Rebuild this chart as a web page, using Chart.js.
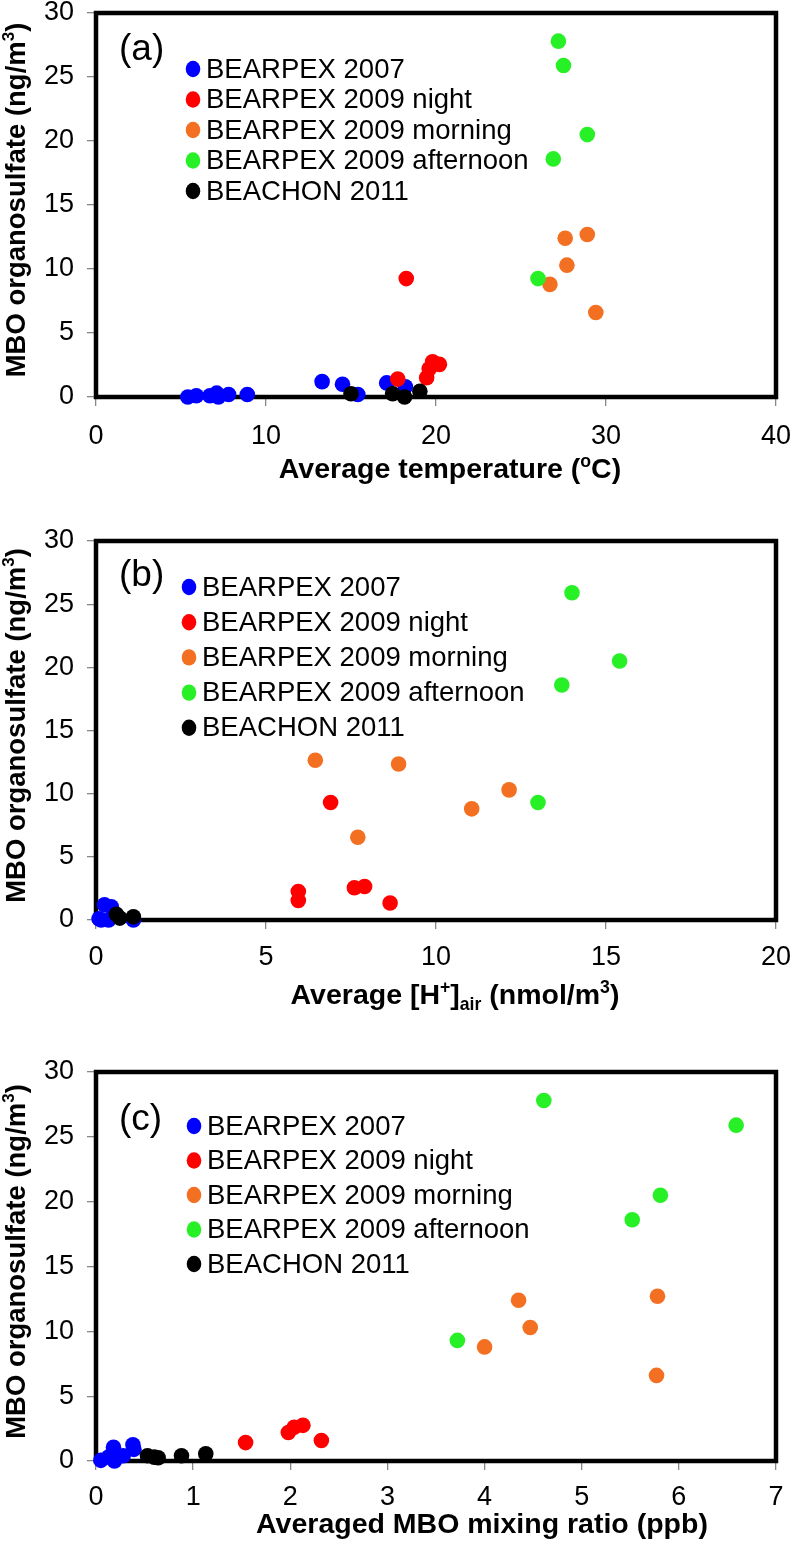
<!DOCTYPE html>
<html><head><meta charset="utf-8">
<script src="https://cdn.jsdelivr.net/npm/chart.js@4.4.1/dist/chart.umd.min.js"></script>
<style>
html,body{margin:0;padding:0;background:#fff;}
body{width:790px;height:1546px;position:relative;overflow:hidden;}
.panel{position:absolute;left:0;width:790px;}
canvas{display:block;}
</style></head><body>
<div class="panel" style="top:0;height:500px"><canvas id="cA" width="790" height="500"></canvas></div>
<div class="panel" style="top:500px;height:520px"><canvas id="cB" width="790" height="520"></canvas></div>
<div class="panel" style="top:1020px;height:526px"><canvas id="cC" width="790" height="526"></canvas></div>
<script>
// ---------- series names & colours ----------
const seriesLabels = ["BEARPEX 2007", "BEARPEX 2009 night", "BEARPEX 2009 morning", "BEARPEX 2009 afternoon", "BEACHON 2011"];
const seriesColors = ["#0000FF", "#FF0000", "#F36F21", "#27F027", "#000000"];

// ---------- panel (a): temperature (°C) vs MBO organosulfate (ng/m3) ----------
const tempB07   = [5.4, 5.9, 6.7, 7.1, 7.2, 7.8, 8.9, 13.3, 14.5, 15.4, 17.1, 18.2];
const osA_B07   = [0.0, 0.1, 0.1, 0.3, 0.0, 0.2, 0.2, 1.2, 1.0, 0.2, 1.1, 0.8];
const tempNight = [18.25, 17.75, 19.45, 19.6, 19.8, 20.2];
const osA_Night = [9.25, 1.4, 1.5, 2.2, 2.75, 2.55];
const tempMorn  = [27.6, 28.9, 27.7, 26.7, 29.4];
const osA_Morn  = [12.4, 12.7, 10.3, 8.8, 6.6];
const tempAft   = [27.2, 27.5, 28.9, 26.9, 26.0];
const osA_Aft   = [27.8, 25.9, 20.5, 18.6, 9.25];
const tempB11   = [15.0, 17.45, 18.15, 19.05];
const osA_B11   = [0.25, 0.25, 0.0, 0.45];

// ---------- panel (b): [H+]air (nmol/m3) ----------
const hB07   = [0.09, 0.15, 0.25, 0.37, 0.45, 1.1];
const osB_B07 = [0.1, 0.0, 1.2, 0.0, 1.05, 0.0];
const hNight = [6.9, 5.95, 5.95, 7.6, 7.9, 8.65];
const osB_Night = [9.3, 2.25, 1.55, 2.55, 2.65, 1.35];
const hMorn  = [6.45, 8.9, 12.15, 11.05, 7.7];
const osB_Morn = [12.65, 12.35, 10.3, 8.8, 6.55];
const hAft   = [14.0, 15.4, 13.7, 13.0];
const osB_Aft = [25.9, 20.5, 18.6, 9.3];
const hB11   = [0.6, 0.7, 1.1];
const osB_B11 = [0.45, 0.15, 0.25];

// ---------- panel (c): MBO mixing ratio (ppb) ----------
const mboB07   = [0.05, 0.13, 0.18, 0.19, 0.28, 0.38, 0.39];
const osC_B07  = [0.05, 0.3, 1.05, 0.0, 0.4, 1.25, 0.9];
const mboNight = [1.54, 1.98, 2.04, 2.13, 2.32];
const osC_Night = [1.42, 2.2, 2.6, 2.75, 1.58];
const mboMorn  = [4.35, 5.78, 4.47, 4.0, 5.77];
const osC_Morn = [12.4, 12.7, 10.3, 8.8, 6.6];
const mboAft   = [4.61, 6.59, 5.81, 5.52, 3.72];
const osC_Aft  = [27.8, 25.9, 20.5, 18.6, 9.3];
const mboB11   = [0.53, 0.6, 0.64, 0.88, 1.13];
const osC_B11  = [0.4, 0.3, 0.25, 0.4, 0.55];

// ---------- axes & texts ----------
const yTicksMax = 30, yStep = 5;
const xMaxA = 40, xStepA = 10;
const xMaxB = 20, xStepB = 5;
const xMaxC = 7,  xStepC = 1;
const yTitle = [["MBO organosulfate (ng/m"], ["3", "sup"], [")"]];
const xTitleA = [["Average temperature ("], ["o", "sup"], ["C)"]];
const xTitleB = [["Average [H"], ["+", "sup"], ["]"], ["air", "sub"], [" (nmol/m"], ["3", "sup"], [")"]];
const xTitleC = [["Averaged MBO mixing ratio (ppb)"]];
const panelLabels = ["(a)", "(b)", "(c)"];

const FONT = "'Liberation Sans', Arial, sans-serif";

function zip(xs, ys) { return xs.map((x, i) => ({ x: x, y: ys[i] })); }

function drawRich(ctx, segs, cx, cy, size, bold, rot) {
  ctx.save();
  ctx.translate(cx, cy);
  if (rot) ctx.rotate(rot);
  const w = (bold ? "bold " : "");
  let total = 0;
  const parts = segs.map(s => {
    const kind = s[1] || "n";
    const sz = kind === "n" ? size : size * 0.62;
    ctx.font = w + sz + "px " + FONT;
    const width = ctx.measureText(s[0]).width;
    total += width;
    return { t: s[0], kind, sz, width };
  });
  let x = -total / 2;
  ctx.fillStyle = "#000";
  ctx.textBaseline = "alphabetic";
  ctx.textAlign = "left";
  const base = size * 0.36;
  parts.forEach(p => {
    ctx.font = w + p.sz + "px " + FONT;
    let dy = base;
    if (p.kind === "sup") dy = base - size * 0.4;
    if (p.kind === "sub") dy = base + size * 0.2;
    ctx.fillText(p.t, x, dy);
    x += p.width;
  });
  ctx.restore();
}

function makePanel(id, cfg) {
  const canvas = document.getElementById(id);
  const H = canvas.height;
  const datasets = cfg.series.map((s, i) => ({
    label: seriesLabels[i],
    data: s,
    backgroundColor: seriesColors[i],
    borderColor: seriesColors[i],
    borderWidth: 0,
    pointRadius: 7.8,
    pointHoverRadius: 7.8,
    order: -i,
    clip: false
  }));
  const overlay = {
    id: "overlay_" + id,
    beforeDatasetsDraw(chart) {
      const a = chart.chartArea, ctx = chart.ctx;
      ctx.save();
      ctx.strokeStyle = "#000";
      ctx.lineWidth = 4.5;
      ctx.strokeRect(a.left, a.top, a.right - a.left, a.bottom - a.top);
      ctx.restore();
    },
    afterDatasetsDraw(chart) {
      const ctx = chart.ctx, a = chart.chartArea;
      // panel label
      ctx.save();
      ctx.fillStyle = "#000";
      ctx.font = "37px " + FONT;
      ctx.textBaseline = "middle";
      ctx.textAlign = "left";
      ctx.fillText(cfg.label, 119, cfg.labelY);
      // legend
      chart.data.datasets.forEach((ds, i) => {
        const y = cfg.legY + i * cfg.legDy;
        ctx.beginPath();
        ctx.fillStyle = ds.backgroundColor;
        ctx.ellipse(cfg.legX, y, 7.3, 8.2, 0, 0, Math.PI * 2);
        ctx.fill();
        ctx.fillStyle = "#000";
        ctx.font = "27.5px " + FONT;
        ctx.textBaseline = "middle";
        ctx.fillText(ds.label, cfg.legX + 13, y + 1);
      });
      ctx.restore();
      // axis titles
      drawRich(ctx, cfg.xTitle, cfg.xTitleX, cfg.xTitleY, 28.5, true, 0);
      drawRich(ctx, yTitle, 15, (a.top + a.bottom) / 2 - 5, 27.5, true, -Math.PI / 2);
    }
  };
  return new Chart(canvas, {
    type: "scatter",
    data: { datasets },
    options: {
      responsive: false,
      animation: false,
      events: [],
      layout: { padding: { top: cfg.top, right: 14, left: 0, bottom: 0 } },
      plugins: { legend: { display: false }, tooltip: { enabled: false }, title: { display: false } },
      scales: {
        x: {
          type: "linear", min: 0, max: cfg.xMax,
          ticks: { stepSize: cfg.xStep, color: "#000", padding: cfg.xPad, font: { family: FONT, size: 27 } },
          grid: { drawOnChartArea: false, drawTicks: true, tickLength: 9, color: "#888", lineWidth: 1.3 },
          border: { display: false },
          afterFit(scale) { scale.height = H - cfg.bottom; scale.paddingLeft = 0; scale.paddingRight = 0; }
        },
        y: {
          type: "linear", min: 0, max: yTicksMax,
          ticks: { stepSize: yStep, color: "#000", padding: 13, font: { family: FONT, size: 27 } },
          grid: { drawOnChartArea: false, drawTicks: true, tickLength: 9, color: "#888", lineWidth: 1.3 },
          border: { display: false },
          afterFit(scale) { scale.width = 96; scale.paddingTop = 0; scale.paddingBottom = 0; }
        }
      }
    },
    plugins: [overlay]
  });
}

makePanel("cA", {
  series: [zip(tempB07, osA_B07), zip(tempNight, osA_Night), zip(tempMorn, osA_Morn), zip(tempAft, osA_Aft), zip(tempB11, osA_B11)],
  xMax: xMaxA, xStep: xStepA, top: 13, bottom: 397, xPad: 14,
  label: panelLabels[0], labelY: 50,
  legX: 193, legY: 69, legDy: 30.5,
  xTitle: xTitleA, xTitleX: 450, xTitleY: 468
});
makePanel("cB", {
  series: [zip(hB07, osB_B07), zip(hNight, osB_Night), zip(hMorn, osB_Morn), zip(hAft, osB_Aft), zip(hB11, osB_B11)],
  xMax: xMaxB, xStep: xStepB, top: 41, bottom: 420, xPad: 12,
  label: panelLabels[1], labelY: 76,
  legX: 189, legY: 87, legDy: 35.2,
  xTitle: xTitleB, xTitleX: 455, xTitleY: 494
});
makePanel("cC", {
  series: [zip(mboB07, osC_B07), zip(mboNight, osC_Night), zip(mboMorn, osC_Morn), zip(mboAft, osC_Aft), zip(mboB11, osC_B11)],
  xMax: xMaxC, xStep: xStepC, top: 52, bottom: 441, xPad: 11,
  label: panelLabels[2], labelY: 100,
  legX: 194, legY: 106, legDy: 34.5,
  xTitle: xTitleC, xTitleX: 482, xTitleY: 503
});
</script>
</body></html>
